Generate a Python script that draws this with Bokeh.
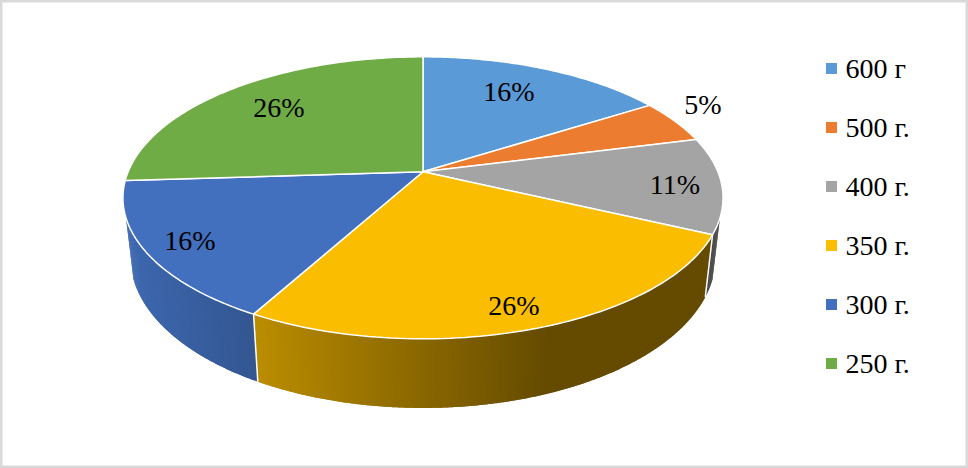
import numpy as np
from bokeh.core.properties import value
from bokeh.embed import file_html
from bokeh.models import Range1d
from bokeh.plotting import figure
from bokeh.resources import INLINE

# --- data ---
categories = ["600 г", "500 г.", "400 г.", "350 г.", "300 г.", "250 г."]
shares = [16, 5, 11, 26, 16, 26]
colors = ["#5A9AD6", "#EC7C30", "#A4A4A4", "#FBBD00", "#4270BF", "#6FAC46"]

# --- layout ---
W, H = 968, 468
CX, CY = 422.5, 171.3
A, B, K = 294.9, 136.2, 0.1844
BASE_S, BASE_CY, BASE_B = 0.975, 229.3, 145.3
VISIBLE = (108.5, 251.5)
label_x = [508.5, 702.5, 674.5, 513.5, 189.5, 278.5]
label_y = [91, 104, 184, 305, 240, 107]
side_ramps = {
    2: ([700, 725], ["#484848", "#484848"]),
    3: ([258, 545, 720], ["#BA8C00", "#654B00", "#654B00"]),
    4: ([120, 258], ["#3E69B2", "#335690"]),
}
STEP = 0.5


def top(t):
    t = np.radians(t)
    w = 1 + K * np.cos(t)
    return CX + A * np.sin(t) / w, CY - B * np.cos(t) / w


def base(t):
    t = np.radians(t)
    w = 1 + K * np.cos(t)
    return CX + BASE_S * A * np.sin(t) / w, BASE_CY - BASE_B * np.cos(t) / w


def hex_rgb(c):
    return np.array([int(c[i:i + 2], 16) for i in (1, 3, 5)], float)


def ramp(i, x):
    xs, cs = side_ramps[i]
    rgb = [np.interp(x, xs, [hex_rgb(c)[j] for c in cs]) for j in range(3)]
    return "#%02x%02x%02x" % tuple(int(round(v)) for v in rgb)


edges = np.concatenate([[0], np.cumsum(shares)]) * 3.6

p = figure(width=W, height=H, output_backend="svg", toolbar_location=None,
           x_range=Range1d(0, W), y_range=Range1d(H, 0),
           x_axis_type=None, y_axis_type=None, min_border=0,
           background_fill_color="white", border_fill_color="white",
           outline_line_color="#D9D9D9", outline_line_width=4)
p.grid.visible = False
p.styles = {"position": "absolute", "left": "0px", "top": "0px"}

# side wall as overlapping strips, shaded by position
sx, sy, sc = [], [], []
for i in side_ramps:
    a0, a1 = max(edges[i], VISIBLE[0]), min(edges[i + 1], VISIBLE[1])
    ts = np.arange(a0, a1 + STEP, STEP)
    ts[-1] = a1
    for j in range(len(ts) - 1):
        # each strip runs to the far end of its neighbour, so no seam shows
        t0, tm, t1 = ts[j], ts[j + 1], ts[min(j + 2, len(ts) - 1)]
        sweep = np.linspace(t0, t1, 5)
        xt, yt = top(sweep)
        xb, yb = base(sweep[::-1])
        sx.append(list(xt) + list(xb))
        sy.append(list(yt) + list(yb))
        xm = (top(t0)[0] + top(tm)[0] + base(t0)[0] + base(tm)[0]) / 4
        sc.append(ramp(i, xm))
p.patches(sx, sy, fill_color=sc, line_color=None)

# white seams on the side wall
seam_x, seam_y = [], []
for e in edges[3:5]:
    x0, y0 = top(e)
    x1, y1 = base(e)
    seam_x.append([x0, x1])
    seam_y.append([y0, y1])
p.multi_line(seam_x, seam_y, line_color="white", line_width=1.5)

# top face
fx, fy = [], []
for i in range(len(shares)):
    ts = np.linspace(edges[i], edges[i + 1], 80)
    x, y = top(ts)
    fx.append([CX] + list(x))
    fy.append([CY] + list(y))
p.patches(fx, fy, fill_color=colors, line_color="white", line_width=1.5)

# value labels
p.text(label_x, label_y, text=[f"{s}%" for s in shares], text_align="center",
       text_baseline="middle", text_color="black",
       text_font=value("Liberation Serif"), text_font_size="28px")

# legend
ly = [68 + 59 * i for i in range(len(categories))]
p.scatter([831] * len(categories), ly, marker="square", size=11, fill_color=colors, line_color=None)
p.text([845] * len(categories), ly, text=categories, text_align="left",
       text_baseline="middle", text_color="black",
       text_font=value("Liberation Serif"), text_font_size="28px")

open("out.html", "w").write(file_html(p, INLINE))
